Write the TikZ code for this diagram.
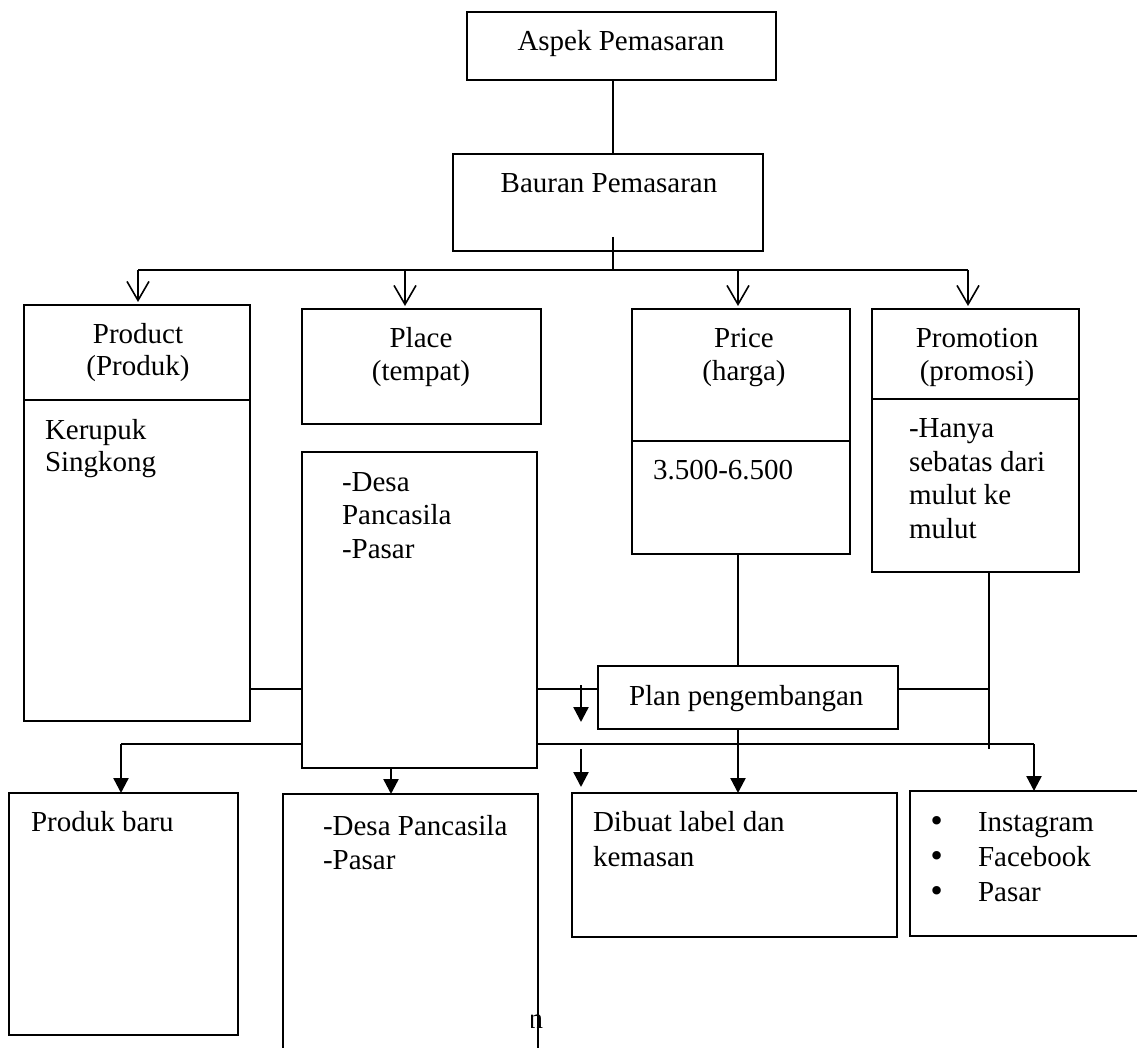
\documentclass[tikz,border=0pt]{standalone}
\usepackage{fontspec}
\setmainfont{Liberation Serif}
\newfontfamily\bulfont{DejaVu Sans}
\usetikzlibrary{arrows.meta}
\begin{document}
\begin{tikzpicture}[x=1pt,y=-1pt,
  box/.style={draw, line width=1.8pt, inner sep=0pt, outer sep=0pt},
  txt/.style={font=\fontsize{29}{33}\selectfont, inner sep=0pt, outer sep=0pt},
  bul/.style={font=\bulfont\fontsize{29}{33}\selectfont, inner sep=0pt, outer sep=0pt},
  thinline/.style={line width=1.3pt},
  toparrow/.style={line width=1.6pt, -{Straight Barb[length=19pt,width=22pt,line width=1.6pt]}, shorten >=3pt},
  fillarrow/.style={line width=2.4pt, -{Triangle[length=15pt,width=15pt]}}
]
\useasboundingbox (0,0) rectangle (1137,1048);
\clip (0,0) rectangle (1137,1048);
\fill[white] (0,0) rectangle (1137,1048);

% boxes
\node[box, minimum width=309pt, minimum height=68pt] (aspek) at (621.5,46) {};
\node[box, minimum width=310pt, minimum height=97pt] (bauran) at (608,202.5) {};
\node[box, minimum width=226pt, minimum height=95pt] (prod) at (137,352.5) {};
\node[box, minimum width=226pt, minimum height=321pt] (prodD) at (137,560.5) {};
\node[box, minimum width=239pt, minimum height=115pt] (place) at (421.5,366.5) {};
\node[box, minimum width=235pt, minimum height=316pt] (placeD) at (419.5,610) {};
\node[box, minimum width=218pt, minimum height=132pt] (price) at (741,375) {};
\node[box, minimum width=218pt, minimum height=113pt] (priceD) at (741,497.5) {};
\node[box, minimum width=207pt, minimum height=90pt] (promo) at (975.5,354) {};
\node[box, minimum width=207pt, minimum height=173pt] (promoD) at (975.5,485.5) {};
\node[box, minimum width=300pt, minimum height=63pt] (plan) at (748,697.5) {};
\node[box, minimum width=229pt, minimum height=242pt] (baru) at (123.5,914) {};
\node[box, minimum width=255pt, minimum height=276pt] (placeB) at (410.5,932) {};
\node[box, minimum width=325pt, minimum height=144pt] (dibuat) at (734.5,865) {};
\node[box, minimum width=250pt, minimum height=145pt] (promoB) at (1035,863.5) {};

% helper coordinates
\coordinate (t) at (613,237);
\coordinate (busL) at (138,270);
\coordinate (busR) at (968,270);
\coordinate (a2) at (405,270);
\coordinate (a3) at (738,270);
\coordinate (h1) at (0,689);
\coordinate (pv) at (738,0);
\coordinate (mv) at (989,749);
\coordinate (b2L) at (121,744);
\coordinate (b2R) at (1034,744);
\coordinate (pd) at (391,0);
\coordinate (s1a) at (581,685);
\coordinate (s1b) at (581,722);
\coordinate (s2a) at (581,749);
\coordinate (s2b) at (581,787);

% top connectors
\draw[thinline] (aspek.south -| t) -- (bauran.north -| t);
\draw[thinline] (t) -- (t |- busL);
\draw[line width=1.6pt] (busL) -- (busR);
\draw[toparrow] (busL) -- (busL |- prod.north);
\draw[toparrow] (a2) -- (a2 |- place.north);
\draw[toparrow] (a3) -- (a3 |- price.north);
\draw[toparrow] (busR) -- (busR |- promo.north);

% middle connectors
\draw[thinline] (prodD.east |- h1) -- (placeD.west |- h1);
\draw[thinline] (placeD.east |- h1) -- (plan.west |- h1);
\draw[thinline] (priceD.south -| pv) -- (plan.north -| pv);
\draw[thinline] (plan.east |- h1) -- (mv |- h1);
\draw[thinline] (promoD.south -| mv) -- (mv);
\draw[thinline] (b2L) -- (placeD.west |- b2L);
\draw[thinline] (placeD.east |- b2L) -- (b2R);

% arrows to bottom
\draw[fillarrow] (b2L) -- (baru.north -| b2L);
\draw[fillarrow] (b2R) -- (promoB.north -| b2R);
\draw[fillarrow] (plan.south -| pv) -- (dibuat.north -| pv);
\draw[fillarrow] (placeD.south -| pd) -- (placeB.north -| pd);
\draw[fillarrow] (s1a) -- (s1b);
\draw[fillarrow] (s2a) -- (s2b);

% texts
\node[txt, anchor=base] (tA) at (621,51) {Aspek Pemasaran};
\node[txt, anchor=base] (tB) at (609,193) {Bauran Pemasaran};
\node[txt, anchor=base] (tP1) at (138,343) {Product};
\node[txt, anchor=base] (tP2) at (138,375) {(Produk)};
\node[txt, anchor=base] (tL1) at (421,348) {Place};
\node[txt, anchor=base] (tL2) at (421,380) {(tempat)};
\node[txt, anchor=base] (tR1) at (744,348) {Price};
\node[txt, anchor=base] (tR2) at (744,380) {(harga)};
\node[txt, anchor=base] (tM1) at (977,348) {Promotion};
\node[txt, anchor=base] (tM2) at (977,380) {(promosi)};

\node[txt, anchor=base west] (k1) at (45,439) {Kerupuk};
\node[txt, anchor=base west] (k2) at (45,471) {Singkong};
\node[txt, anchor=base west] (d1) at (342,491) {-Desa};
\node[txt, anchor=base west] (d2) at (342,524) {Pancasila};
\node[txt, anchor=base west] (d3) at (342,558) {-Pasar};
\node[txt, anchor=base west] (hg) at (653,479) {3.500-6.500};
\node[txt, anchor=base west] (m1) at (909,437) {-Hanya};
\node[txt, anchor=base west] (m2) at (909,471) {sebatas dari};
\node[txt, anchor=base west] (m3) at (909,504) {mulut ke};
\node[txt, anchor=base west] (m4) at (909,538) {mulut};

\node[txt, anchor=base west] (tpl) at (629,705) {Plan pengembangan};

\node[txt, anchor=base west] (pb) at (31,831) {Produk baru};
\node[txt, anchor=base west] (e1) at (323,835) {-Desa Pancasila};
\node[txt, anchor=base west] (e2) at (323,869) {-Pasar};
\node[txt, anchor=base west] (f1) at (593,831) {Dibuat label dan};
\node[txt, anchor=base west] (f2) at (593,866) {kemasan};
\node[bul, anchor=base] (g1) at (937,831) {•};
\node[bul, anchor=base] (g2) at (937,866) {•};
\node[bul, anchor=base] (g3) at (937,901) {•};
\node[txt, anchor=base west] (i1) at (978,831) {Instagram};
\node[txt, anchor=base west] (i2) at (978,866) {Facebook};
\node[txt, anchor=base west] (i3) at (978,901) {Pasar};

\begin{scope}
\clip (531,995) rectangle (545,1040);
\node[txt, anchor=base east] (stray) at (543,1028) {n};
\end{scope}
\end{tikzpicture}
\end{document}
